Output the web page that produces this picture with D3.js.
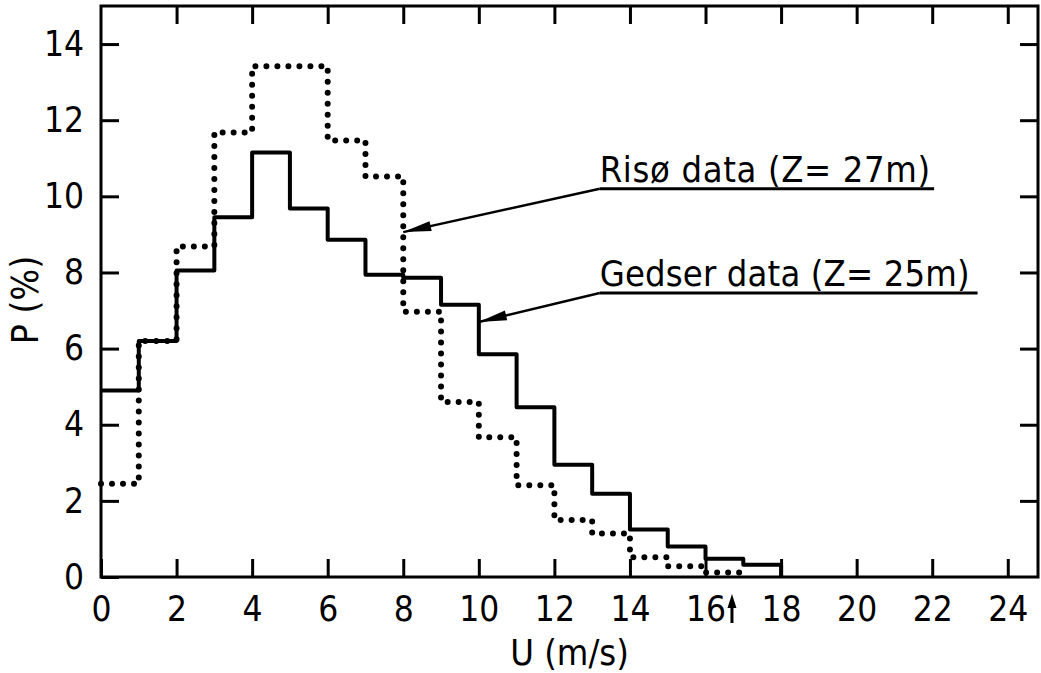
<!DOCTYPE html>
<html>
<head>
  <meta charset="utf-8">
  <title>Wind speed distribution</title>
  <style>
    body { margin: 0; background: #fff; }
    text { font-family: "Liberation Sans Narrow", "DejaVu Sans Condensed", "DejaVu Sans", sans-serif; fill: #000; }
    .axis path { display: none; }
    .axis line { stroke: #000; stroke-width: 3; }
  </style>
</head>
<body>
  <script src="https://cdn.jsdelivr.net/npm/d3@7"></script>
  <script>
    // data: bin lower edges (m/s) and frequency P (%)
    var binStart = [0, 1, 2, 3, 4, 5, 6, 7, 8, 9, 10, 11, 12, 13, 14, 15, 16, 17];
    var gedser = [4.9, 6.2, 8.05, 9.45, 11.15, 9.68, 8.86, 7.94, 7.86, 7.15, 5.85, 4.46, 2.95, 2.19, 1.25, 0.8, 0.48, 0.32];
    var riso   = [2.45, 6.2, 8.68, 11.68, 13.42, 13.42, 11.47, 10.52, 6.97, 4.6, 3.67, 2.41, 1.5, 1.14, 0.52, 0.28, 0.12];
    var xTicks = [0, 2, 4, 6, 8, 10, 12, 14, 16, 18, 20, 22, 24];
    var yTicks = [0, 2, 4, 6, 8, 10, 12, 14];

    // labels and where their leader lines point (data units)
    var labelText = ["Risø  data (Z= 27m)", "Gedser  data (Z= 25m)"];
    var labelStart = [[13.2, 10.2], [13.2, 7.46]];
    var labelEnd = [22.05, 23.2];
    var arrowTip = [[8.0, 9.06], [10.0, 6.7]];
    var markU = 16.7;

    var margin = {top: 6, right: 3, bottom: 96, left: 101},
        width = 1041, height = 673,
        w = width - margin.left - margin.right,
        h = height - margin.top - margin.bottom;

    var x = d3.scaleLinear().domain([0, 24.8]).range([0, w]);
    var y = d3.scaleLinear().domain([0, 15]).range([h, 0]);

    var svg = d3.select("body").append("svg")
      .attr("width", width)
      .attr("height", height);

    var g = svg.append("g")
      .attr("transform", "translate(" + margin.left + "," + margin.top + ")");

    // axes, ticks pointing inward
    g.append("g").attr("class", "axis")
      .attr("transform", "translate(0," + h + ")")
      .call(d3.axisBottom(x).tickValues(xTicks).tickSize(-18).tickPadding(19))
      .selectAll("text").attr("font-size", 35);

    g.append("g").attr("class", "axis")
      .call(d3.axisTop(x).tickValues(xTicks.slice(1)).tickSize(-18).tickFormat(""));

    g.append("g").attr("class", "axis")
      .call(d3.axisLeft(y).tickValues(yTicks).tickSize(-18).tickPadding(17))
      .selectAll("text").attr("font-size", 35);

    g.append("g").attr("class", "axis")
      .attr("transform", "translate(" + w + ",0)")
      .call(d3.axisRight(y).tickValues(yTicks.slice(1)).tickSize(-18).tickFormat(""));

    // frame
    g.append("rect")
      .attr("width", w).attr("height", h)
      .attr("fill", "none").attr("stroke", "#000").attr("stroke-width", 3);

    // step histograms
    var step = d3.line()
      .x(function(d) { return x(d[0]); })
      .y(function(d) { return y(d[1]); })
      .curve(d3.curveStepAfter);

    var gPts = binStart.map(function(b, i) { return [b, gedser[i]]; });
    gPts.push([18, 0]);
    var rPts = riso.map(function(v, i) { return [binStart[i], v]; });
    rPts.push([17, 0]);

    g.append("path")
      .attr("d", step(rPts))
      .attr("fill", "none").attr("stroke", "#000")
      .attr("stroke-width", 6).attr("stroke-linecap", "round")
      .attr("stroke-dasharray", "0,11");

    g.append("path")
      .attr("d", step(gPts))
      .attr("fill", "none").attr("stroke", "#000")
      .attr("stroke-width", 4).attr("stroke-linejoin", "round");

    // labels with leader arrows
    labelText.forEach(function(t, i) {
      var sx = x(labelStart[i][0]), sy = y(labelStart[i][1]);
      var ex = x(arrowTip[i][0]), ey = y(arrowTip[i][1]);
      g.append("line")
        .attr("x1", sx).attr("y1", sy).attr("x2", x(labelEnd[i])).attr("y2", sy)
        .attr("stroke", "#000").attr("stroke-width", 3);
      g.append("line")
        .attr("x1", sx).attr("y1", sy).attr("x2", ex).attr("y2", ey)
        .attr("stroke", "#000").attr("stroke-width", 2.5);
      var ang = Math.atan2(sy - ey, sx - ex), L = 28, s = 5;
      var bx = ex + L * Math.cos(ang), by = ey + L * Math.sin(ang);
      g.append("path")
        .attr("d", "M" + ex + "," + ey +
          "L" + (bx - s * Math.sin(ang)) + "," + (by + s * Math.cos(ang)) +
          "L" + (bx + s * Math.sin(ang)) + "," + (by - s * Math.cos(ang)) + "Z")
        .attr("fill", "#000");
      g.append("text")
        .attr("x", sx).attr("y", sy - 7)
        .attr("font-size", 36)
        .attr("textLength", x(labelEnd[i]) - sx - (i == 0 ? 4 : 8))
        .attr("lengthAdjust", "spacing")
        .text(t);
    });

    // small arrow below the axis
    var mx = x(markU);
    g.append("line")
      .attr("x1", mx).attr("y1", h + 46).attr("x2", mx).attr("y2", h + 26)
      .attr("stroke", "#000").attr("stroke-width", 3);
    g.append("path")
      .attr("d", "M" + mx + "," + (h + 17) + "L" + (mx - 4.5) + "," + (h + 31) + "L" + (mx + 4.5) + "," + (h + 31) + "Z")
      .attr("fill", "#000");

    // axis titles
    svg.append("text")
      .attr("x", margin.left + x(12.4)).attr("y", 665)
      .attr("text-anchor", "middle").attr("font-size", 36)
      .text("U (m/s)");

    svg.append("text")
      .attr("transform", "translate(38,300) rotate(-90)")
      .attr("text-anchor", "middle").attr("font-size", 37)
      .text("P (%)");
  </script>
</body>
</html>
